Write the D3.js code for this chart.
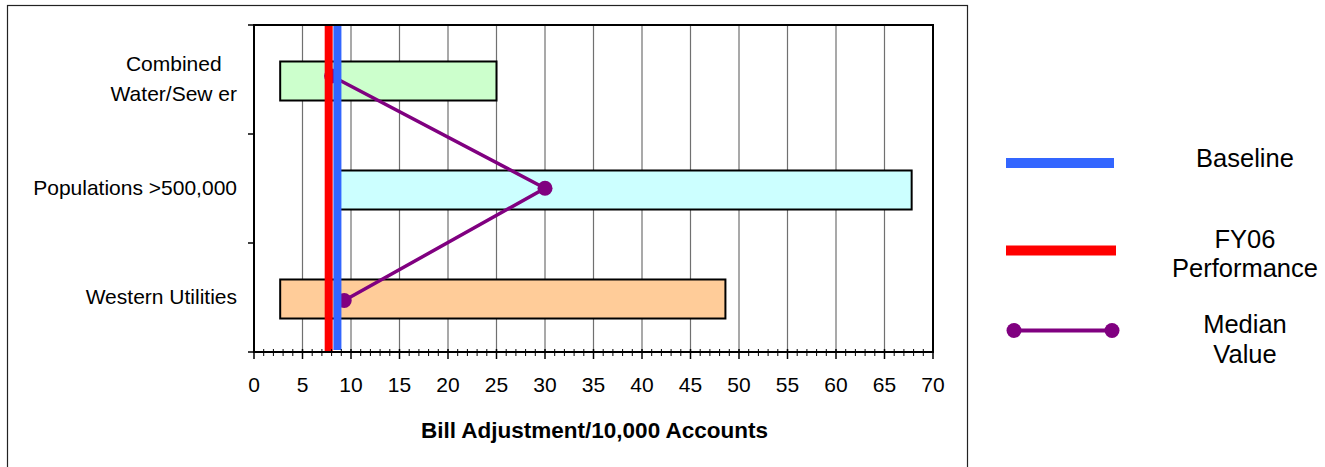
<!DOCTYPE html>
<html>
<head>
<meta charset="utf-8">
<script src="https://cdn.jsdelivr.net/npm/d3@7"></script>
<style>
  html, body { margin: 0; padding: 0; background: #fff; }
  svg { display: block; font-family: "Liberation Sans", Arial, sans-serif; }
</style>
</head>
<body>
<svg id="chart" width="1325" height="467"></svg>
<script>
// Categories (line breaks mark wrapped labels)
const categories = ["Combined\nWater/Sew er", "Populations >500,000", "Western Utilities"];
// Range of bill adjustments per 10,000 accounts within each peer group
const rangeLow = [2.7, 8.8, 2.7];
const rangeHigh = [25, 67.8, 48.6];
// Median value of each peer group
const medianValues = [8.0, 30.0, 9.3];
// Reference levels
const baselineValue = 8.6;
const fy06Value = 7.7;
// Axis ticks
const xTickValues = [0, 5, 10, 15, 20, 25, 30, 35, 40, 45, 50, 55, 60, 65, 70];
const xTitle = "Bill Adjustment/10,000 Accounts";
const legendItems = [
  { key: "baseline", lines: ["Baseline"] },
  { key: "fy06", lines: ["FY06", "Performance"] },
  { key: "median", lines: ["Median", "Value"] }
];

// Styling
const barFills = ["#CCFFCC", "#CCFFFF", "#FFCC99"];
const BLUE = "#3366FF", RED = "#FF0000", PURPLE = "#800080";

const svg = d3.select("#chart");
const plot = { left: 254, right: 933, top: 25, bottom: 352 };

const x = d3.scaleLinear().domain([0, 70]).range([plot.left, plot.right]);
const yBand = d3.scaleBand().domain(categories)
  .range([plot.top, plot.bottom]).paddingInner(0.642).paddingOuter(0.321);
const yCell = d3.scaleBand().domain(categories).range([plot.top, plot.bottom]);
const yMedian = d3.scalePoint().domain(categories).range([plot.top + 51, plot.bottom - 51.5]);

// Outer chart frame (bottom edge runs off the page)
svg.append("rect")
  .attr("x", 7.5).attr("y", 5.5).attr("width", 960).attr("height", 480)
  .attr("fill", "none").attr("stroke", "#222").attr("stroke-width", 1.2);

// Vertical gridlines
svg.append("g").selectAll("line").data(xTickValues.slice(1, -1)).join("line")
  .attr("x1", d => x(d)).attr("x2", d => x(d))
  .attr("y1", plot.top).attr("y2", plot.bottom)
  .attr("stroke", "#707070").attr("stroke-width", 1.2);

// Range bars
svg.append("g").selectAll("rect").data(categories).join("rect")
  .attr("x", (d, i) => x(rangeLow[i]))
  .attr("y", d => yBand(d) + 1.5)
  .attr("width", (d, i) => x(rangeHigh[i]) - x(rangeLow[i]))
  .attr("height", yBand.bandwidth())
  .attr("fill", (d, i) => barFills[i])
  .attr("stroke", "#000").attr("stroke-width", 2);

// Median line with markers
const medianPts = categories.map((c, i) => [x(medianValues[i]), yMedian(c)]);
svg.append("path")
  .attr("d", d3.line()(medianPts))
  .attr("fill", "none").attr("stroke", PURPLE).attr("stroke-width", 3.5);
svg.append("g").selectAll("circle").data(medianPts).join("circle")
  .attr("cx", d => d[0]).attr("cy", d => d[1]).attr("r", 7.5)
  .attr("fill", PURPLE);

// FY06 performance and baseline verticals
svg.append("line")
  .attr("x1", x(fy06Value)).attr("x2", x(fy06Value))
  .attr("y1", plot.top).attr("y2", plot.bottom)
  .attr("stroke", RED).attr("stroke-width", 8);
svg.append("line")
  .attr("x1", x(baselineValue)).attr("x2", x(baselineValue))
  .attr("y1", plot.top).attr("y2", plot.bottom - 2)
  .attr("stroke", BLUE).attr("stroke-width", 8);

// Plot border
svg.append("rect")
  .attr("x", plot.left).attr("y", plot.top)
  .attr("width", plot.right - plot.left).attr("height", plot.bottom - plot.top)
  .attr("fill", "none").attr("stroke", "#000").attr("stroke-width", 2);

// Y-axis ticks on category boundaries
const yBounds = categories.map(c => yCell(c)).concat([plot.bottom]);
svg.append("g").selectAll("line").data(yBounds).join("line")
  .attr("x1", plot.left - 6).attr("x2", plot.left)
  .attr("y1", d => d).attr("y2", d => d)
  .attr("stroke", "#000").attr("stroke-width", 1.5);

// X-axis minor and major ticks
svg.append("g").selectAll("line").data(d3.range(0, 71, 1)).join("line")
  .attr("x1", d => x(d)).attr("x2", d => x(d))
  .attr("y1", plot.bottom - 3)
  .attr("y2", d => d % 5 === 0 ? plot.bottom + 7 : plot.bottom + 4)
  .attr("stroke", "#000").attr("stroke-width", d => d % 5 === 0 ? 1.5 : 1);

// X tick labels
svg.append("g").selectAll("text").data(xTickValues).join("text")
  .attr("x", d => x(d)).attr("y", 392)
  .attr("text-anchor", "middle").attr("font-size", 21).attr("fill", "#000")
  .text(d => d);

// X-axis title
svg.append("text")
  .attr("x", (plot.left + plot.right) / 2 + 1).attr("y", 438)
  .attr("text-anchor", "middle").attr("font-size", 22.5).attr("font-weight", "bold")
  .attr("fill", "#000").text(xTitle);

// Category labels: right edge of the widest line at 237, lines centred on each other
const labelRight = 237, lineGap = 30;
categories.forEach(c => {
  const lines = c.split("\n");
  const g = svg.append("g");
  const texts = lines.map(l => g.append("text")
    .attr("font-size", 21).attr("fill", "#000").attr("text-anchor", "middle").text(l));
  const widest = d3.max(texts, t => t.node().getComputedTextLength());
  const cx = labelRight - widest / 2;
  const mid = yCell(c) + yCell.bandwidth() / 2 - 1.5;
  const firstBase = mid + 7.5 - (lines.length - 1) * lineGap / 2;
  texts.forEach((t, i) => t.attr("x", cx).attr("y", firstBase + i * lineGap));
});

// Legend
const legendY = [163, 250.5, 330.5];
const lx1 = 1010, lx2 = 1112, ltx = 1245;
legendItems.forEach((item, i) => {
  const yy = legendY[i];
  if (item.key === "median") {
    svg.append("line").attr("x1", lx1 + 4).attr("x2", lx2)
      .attr("y1", yy).attr("y2", yy).attr("stroke", PURPLE).attr("stroke-width", 4);
    [lx1 + 4, lx2].forEach(px => svg.append("circle")
      .attr("cx", px).attr("cy", yy).attr("r", 7.5).attr("fill", PURPLE));
  } else {
    svg.append("line").attr("x1", 1006).attr("x2", item.key === "fy06" ? 1116 : 1114)
      .attr("y1", yy).attr("y2", yy)
      .attr("stroke", item.key === "baseline" ? BLUE : RED).attr("stroke-width", 10);
  }
  const textBases = item.key === "baseline" ? [167]
    : item.key === "fy06" ? [248, 277] : [333, 363];
  item.lines.forEach((l, j) => svg.append("text")
    .attr("x", ltx).attr("y", textBases[j]).attr("text-anchor", "middle")
    .attr("font-size", 25.5).attr("fill", "#000").text(l));
});
</script>
</body>
</html>
